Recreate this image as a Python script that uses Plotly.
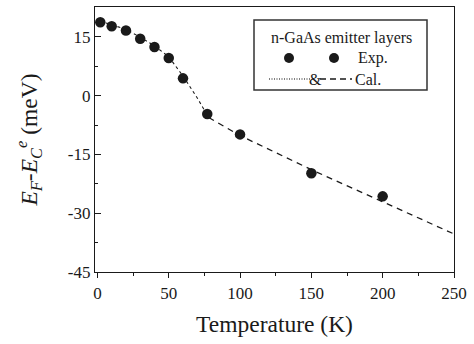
import plotly.graph_objects as go

# Experimental data
exp_T = [2, 10, 20, 30, 40, 50, 60, 77, 100, 150, 200]
exp_E = [18.7, 17.7, 16.6, 14.5, 12.4, 9.6, 4.4, -4.7, -9.9, -19.8, -25.7]

# Calculated (dotted, low T)
cal1_T = [2, 10, 20, 30, 40, 50, 60, 70, 78]
cal1_E = [19.0, 18.0, 16.9, 14.9, 12.7, 9.9, 5.0, -0.6, -5.6]

# Calculated (dashed, high T)
cal2_T = [78, 100, 150, 200, 250]
cal2_E = [-5.6, -10.2, -18.9, -27.0, -35.3]

x_ticks = [0, 50, 100, 150, 200, 250]
y_ticks = [-45, -30, -15, 0, 15]
y_tick_text = ["-45", "-30", "-15", "0", "15"]

FONT = "Liberation Serif"
INK = "#1a1a1a"

W, H = 474, 344
ML, MR, MT, MB = 95, 20, 7, 72
PW, PH = W - ML - MR, H - MT - MB


def px(x):
    return (x - ML) / PW


def py(y):
    return (H - MB - y) / PH


fig = go.Figure()
fig.add_trace(go.Scatter(x=cal1_T, y=cal1_E, mode="lines",
                         line=dict(color=INK, width=1.1, dash="dot"), showlegend=False))
fig.add_trace(go.Scatter(x=cal2_T, y=cal2_E, mode="lines",
                         line=dict(color=INK, width=1.3, dash="6px,5px"), showlegend=False))
fig.add_trace(go.Scatter(x=exp_T, y=exp_E, mode="markers",
                         marker=dict(color=INK, size=10.5), showlegend=False))

shapes = [
    # legend box
    dict(type="rect", xref="paper", yref="paper", x0=px(254), x1=px(427), y0=py(90), y1=py(20),
         line=dict(color="#333", width=1.5), fillcolor="white", layer="below"),
    # legend dotted line
    dict(type="line", xref="paper", yref="paper", x0=px(269), x1=px(310), y0=py(79), y1=py(79),
         line=dict(color="#000", width=1.2, dash="1px,1.5px")),
    # legend dashed line
    dict(type="line", xref="paper", yref="paper", x0=px(320), x1=px(352), y0=py(79), y1=py(79),
         line=dict(color=INK, width=1.3, dash="6px,4px")),
]
for cx in (289, 334):
    shapes.append(dict(type="circle", xref="paper", yref="paper", xsizemode="pixel", ysizemode="pixel",
                       xanchor=px(cx), yanchor=py(58), x0=-5, x1=5, y0=-5, y1=5,
                       fillcolor=INK, line=dict(color=INK, width=0)))

annotations = [
    dict(text="n-GaAs emitter layers", xref="paper", yref="paper", x=px(341), y=py(38),
         showarrow=False, font=dict(family=FONT, size=16, color=INK), xanchor="center", yanchor="middle"),
    dict(text="Exp.", xref="paper", yref="paper", x=px(356), y=py(58),
         showarrow=False, font=dict(family=FONT, size=16, color=INK), xanchor="left", yanchor="middle"),
    dict(text="&", xref="paper", yref="paper", x=px(315), y=py(79),
         showarrow=False, font=dict(family=FONT, size=16, color=INK), xanchor="center", yanchor="middle"),
    dict(text="Cal.", xref="paper", yref="paper", x=px(353), y=py(79),
         showarrow=False, font=dict(family=FONT, size=16, color=INK), xanchor="left", yanchor="middle"),
]

fig.update_layout(
    width=W, height=H,
    margin=dict(l=ML, r=MR, t=MT, b=MB),
    paper_bgcolor="white", plot_bgcolor="white",
    font=dict(family=FONT, color=INK),
    shapes=shapes, annotations=annotations,
    xaxis=dict(range=[-1.7, 250], tickvals=x_ticks, ticks="outside", ticklen=5, tickwidth=1,
               tickcolor=INK, minor=dict(dtick=25, ticks="outside", ticklen=3, tickcolor=INK),
               showline=True, linecolor=INK, linewidth=1.3, mirror=True, showgrid=False, zeroline=False,
               tickfont=dict(size=17, family=FONT, color=INK),
               title=dict(text="Temperature (K)", font=dict(size=23.5, family=FONT, color=INK), standoff=14)),
    yaxis=dict(range=[-45, 22.6], tickvals=y_ticks, ticktext=y_tick_text, ticks="inside", ticklen=6,
               tickwidth=1, tickcolor=INK, minor=dict(dtick=7.5, ticks="inside", ticklen=3, tickcolor=INK),
               showline=True, linecolor=INK, linewidth=1.3, mirror=True, showgrid=False, zeroline=False,
               tickfont=dict(size=17, family=FONT, color=INK),
               title=dict(text="<i>E</i><sub><i>F</i></sub>-<i>E</i><sub><i>C</i></sub><sup><i>e</i></sup> (meV)",
                          font=dict(size=23.5, family=FONT, color=INK), standoff=23)),
)

fig.write_html("out.html")
